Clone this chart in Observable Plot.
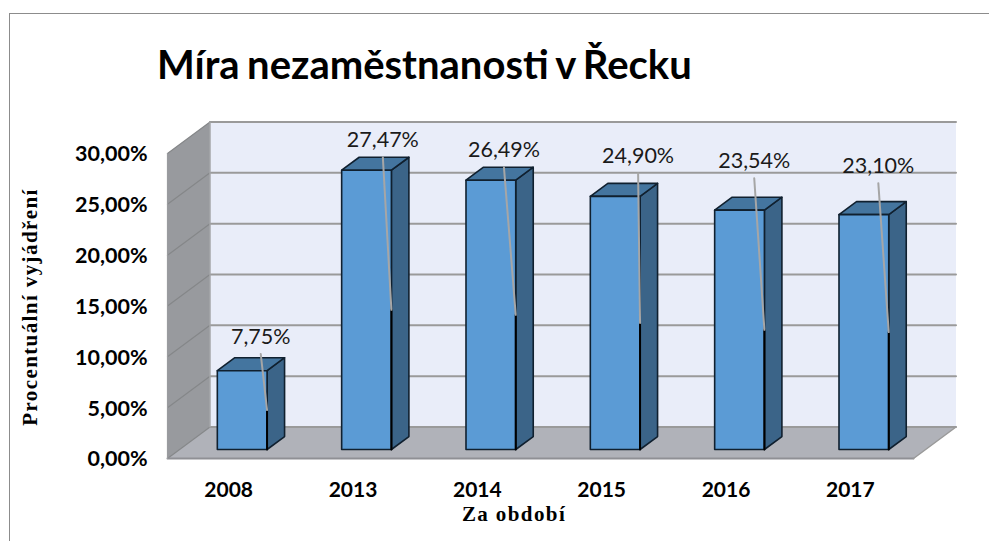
<!DOCTYPE html>
<html lang="cs">
<head>
<meta charset="utf-8">
<script src="https://cdn.jsdelivr.net/npm/d3@7"></script>
<script src="https://cdn.jsdelivr.net/npm/@observablehq/plot@0.6"></script>
<style>
html,body{margin:0;padding:0;background:#fff;overflow:hidden}
#wrap{position:relative;width:989px;height:541px;overflow:hidden}
#wrap svg{position:absolute;left:0;top:0;background:transparent}
#frame{position:absolute;left:9px;top:13px;width:990px;height:540px;border:1.5px solid #8c8c8c;box-sizing:border-box}
h1{position:absolute;left:157px;top:40px;margin:0;font:700 40px/48px Lato,sans-serif;word-spacing:-2.3px;color:#000;white-space:nowrap}
.axis-title{letter-spacing:1.4px}
</style>
</head>
<body>
<div id="wrap">
<div id="frame"></div>
<h1>Míra nezaměstnanosti v Řecku</h1>
</div>
<script>
const years = ["2008","2013","2014","2015","2016","2017"];
const rates = [7.75,27.47,26.49,24.90,23.54,23.10];
const rateLabels = ["7,75%","27,47%","26,49%","24,90%","23,54%","23,10%"];
const yTicks = [0,5,10,15,20,25,30];
const labelPos = [0.25,1.232,2.206,3.285,4.219,5.217];
const labelVal = [11.98,31.34,30.35,29.76,29.27,28.78];

// pseudo-3D: a point is (category position p, value v, depth d from 0 front to 1 back)
const depthX = 42.5/124.33, depthV = 31.5/10.17;
const px = t => t.p + t.d*depthX;
const py = t => t.v + t.d*depthV;
const dF = 0.286, dB = 0.698, half = 0.2;
const pMin = -0.5, pMax = 5.5, vMax = 30;

function face(points){ return points.concat([points[0]]).map(([p,v,d]) => ({p,v,d})); }
function poly(points, fill, stroke="none", strokeWidth=1){
  return Plot.line(face(points),{x:px,y:py,fill,stroke,strokeWidth,curve:"linear",strokeLinejoin:"round"});
}
function seg(a,b,stroke,strokeWidth){
  return Plot.line([a,b].map(([p,v,d])=>({p,v,d})),{x:px,y:py,stroke,strokeWidth});
}

const marks = [];
// back wall, side wall, floor
marks.push(poly([[pMin,0,1],[pMax,0,1],[pMax,vMax,1],[pMin,vMax,1]],"#e9edf9"));
marks.push(poly([[pMin,0,0],[pMin,0,1],[pMin,vMax,1],[pMin,vMax,0]],"#989a9e"));
marks.push(poly([[pMin,0,0],[pMax,0,0],[pMax,0,1],[pMin,0,1]],"#b0b2b9"));
for(const t of yTicks){
  marks.push(seg([pMin,t,1],[pMax,t,1],"#9a9a9a",2));
  marks.push(seg([pMin,t,0],[pMin,t,1],"#858789",1.2));
}
marks.push(seg([pMin,0,0],[pMax,0,0],"#8f9095",2));
marks.push(seg([pMax,0,0],[pMax,0,1],"#9a9a9a",1.5));
marks.push(seg([pMin,0,0],[pMin,vMax,0],"#9a9c9f",1.2));
marks.push(seg([pMin,0,1],[pMin,vMax,1],"#a4a6a9",1.5));

const edge = "#10202f";
rates.forEach((r,i)=>{
  const a=i-half+0.003, b=i+half+0.003;
  marks.push(poly([[b,0,dF],[b,0,dB],[b,r,dB],[b,r,dF]],"#3b6488",edge,1.6));
  marks.push(poly([[a,r,dF],[b,r,dF],[b,r,dB],[a,r,dB]],"#44759f",edge,1.6));
  marks.push(poly([[a,0,dF],[b,0,dF],[b,r,dF],[a,r,dF]],"#5b9bd5",edge,1.6));
  marks.push(seg([b,0,dF],[b,r/2,dF],"#000",2));
  // leader from the label to the middle of the bar's front right edge
  marks.push(Plot.line([
    {p:labelPos[i],v:labelVal[i]-1.7,d:0},
    {p:b,v:r/2,d:dF}
  ],{x:px,y:py,stroke:"#a6a6a6",strokeWidth:2}));
});

marks.push(Plot.text(rateLabels,{
  x:(d,i)=>labelPos[i], y:(d,i)=>labelVal[i], text:d=>d,
  fontFamily:"Lato, sans-serif", fontSize:21.5, fill:"#1a1a1a"
}));
marks.push(Plot.axisY({ticks:yTicks,tickSize:0,tickPadding:20,dy:1,
  tickFormat:d=>d.toFixed(2).replace(".",",")+"%",
  fontFamily:"Lato, sans-serif",fontSize:21.5,fontWeight:700,fill:"#000",label:null}));
marks.push(Plot.axisX({ticks:d3.range(years.length),tickSize:0,tickPadding:24,
  tickFormat:i=>years[i],dx:-1,
  fontFamily:"Lato, sans-serif",fontSize:21,fontWeight:700,fill:"#000",label:null}));
marks.push(Plot.text(["Za období"],{x:()=>2.287,y:()=>-5.5,text:d=>d,className:"axis-title",
  fontFamily:"Liberation Serif, serif",fontSize:21,fontWeight:700,fill:"#000"}));
marks.push(Plot.text(["Procentuální vyjádření"],{x:()=>-1.6,y:()=>14.9,text:d=>d,rotate:-90,className:"axis-title",
  fontFamily:"Liberation Serif, serif",fontSize:21,fontWeight:700,fill:"#000"}));

const chart = Plot.plot({
  width:989,height:541,
  marginLeft:167,marginRight:76,marginTop:153,marginBottom:83,
  style:{background:"transparent",overflow:"visible"},
  x:{type:"linear",domain:[pMin,pMax],axis:null},
  y:{type:"linear",domain:[0,vMax],axis:null},
  marks
});
document.getElementById("wrap").appendChild(chart);
</script>
</body>
</html>
